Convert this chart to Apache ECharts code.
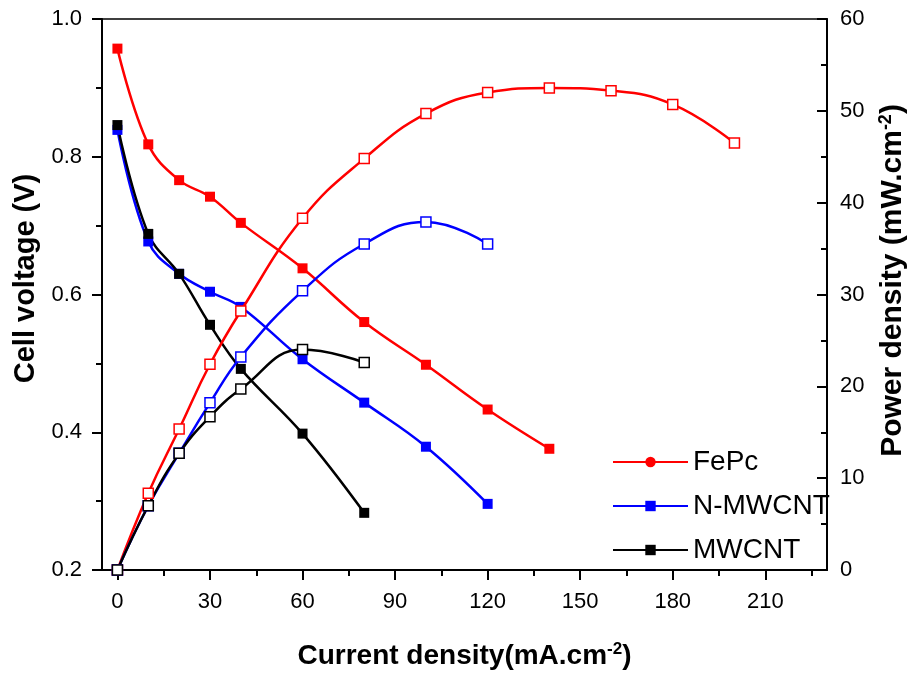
<!DOCTYPE html>
<html>
<head>
<meta charset="utf-8">
<script src="https://cdn.jsdelivr.net/npm/echarts@6/dist/echarts.min.js"></script>
<style>html,body{margin:0;padding:0;background:#fff}#c{width:916px;height:676px}</style>
</head>
<body>
<div id="c"></div>
<script>
// Current density (mA/cm2)
const currentFePc = [0, 10, 20, 30, 40, 60, 80, 100, 120, 140];
const currentFePcPower = [0, 10, 20, 30, 40, 60, 80, 100, 120, 140, 160, 180, 200];
const currentNMW = [0, 10, 20, 30, 40, 60, 80, 100, 120];
const currentMW = [0, 10, 20, 30, 40, 60, 80];

// Cell voltage (V)
const voltageFePc = [0.957, 0.818, 0.766, 0.742, 0.704, 0.638, 0.560, 0.498, 0.433, 0.376];
const voltageNMW = [0.839, 0.677, 0.630, 0.604, 0.582, 0.506, 0.443, 0.379, 0.296];
const voltageMW = [0.846, 0.688, 0.630, 0.556, 0.492, 0.398, 0.283];

// Power density (mW/cm2)
const powerFePc = [0, 8.35, 15.35, 22.4, 28.2, 38.3, 44.8, 49.7, 52.0, 52.5, 52.2, 50.7, 46.5];
const powerNMW = [0, 7.0, 12.7, 18.2, 23.2, 30.4, 35.5, 37.9, 35.5];
const powerMW = [0, 7.0, 12.7, 16.7, 19.7, 24.0, 22.6];

// Tick values
const xLabelTicks = [0, 30, 60, 90, 120, 150, 180, 210];
const xMinorTicks = [15, 45, 75, 105, 135, 165, 195, 225];
const legendNames = ['FePc', 'N-MWCNT', 'MWCNT'];

const pairs = (xs, ys) => xs.map((x, i) => [x, ys[i]]);
const FONT = '"Liberation Sans", Arial, sans-serif';
const RED = '#ff0000', BLUE = '#0000ff', BLACK = '#000000';

function vSeries(name, xs, ys, color) {
  return {
    name: name, type: 'line', xAxisIndex: 0, yAxisIndex: 0,
    data: pairs(xs, ys), smooth: 0.4,
    symbol: 'rect', symbolSize: 10,
    lineStyle: { color: color, width: 2.5 },
    itemStyle: { color: color },
    z: 3
  };
}
function pSeries(name, xs, ys, color) {
  return {
    name: name, type: 'line', xAxisIndex: 0, yAxisIndex: 1,
    data: pairs(xs, ys), smooth: 0.45,
    symbol: 'rect', symbolSize: 10,
    lineStyle: { color: color, width: 2.5 },
    itemStyle: { color: '#ffffff', borderColor: color, borderWidth: 1.5 },
    z: 4
  };
}
function dummy(name, color, symbol) {
  return {
    name: name, type: 'line', data: [], xAxisIndex: 0, yAxisIndex: 0,
    symbol: symbol, symbolSize: 10,
    lineStyle: { color: color, width: 2.5 },
    itemStyle: { color: color }
  };
}

const chart = echarts.init(document.getElementById('c'), null, { renderer: 'canvas' });
chart.setOption({
  animation: false,
  backgroundColor: '#ffffff',
  grid: { left: 102, right: 77, top: 19, bottom: 106, show: true, borderColor: '#000', borderWidth: 1.5, backgroundColor: 'transparent' },
  legend: {
    data: legendNames,
    orient: 'vertical',
    left: 612, top: 446, padding: 0,
    itemWidth: 75, itemHeight: 13, itemGap: 12,
    textStyle: { fontFamily: FONT, fontSize: 28, color: '#000', lineHeight: 32 },
    selectedMode: false
  },
  xAxis: [{
    type: 'value', min: -5, max: 230, position: 'bottom',
    name: 'Current density(mA.cm{sup|-2})',
    nameLocation: 'middle', nameGap: 71,
    nameTextStyle: {
      fontFamily: FONT, fontSize: 28, fontWeight: 'bold', color: '#000',
      rich: { sup: { fontFamily: FONT, fontSize: 17, fontWeight: 'bold', color: '#000', verticalAlign: 'top', padding: [0, 0, 14, 0] } }
    },
    axisLine: { show: true, onZero: false, lineStyle: { color: '#000', width: 2 } },
    axisTick: { show: true, inside: false, length: 10, customValues: xLabelTicks, lineStyle: { color: '#000', width: 2 } },
    axisLabel: { show: true, customValues: xLabelTicks, margin: 21, fontFamily: FONT, fontSize: 22, color: '#000' },
    splitLine: { show: false }
  }, {
    type: 'value', min: -5, max: 230, position: 'bottom',
    axisLine: { show: false },
    axisTick: { show: true, inside: false, length: 6, customValues: xMinorTicks, lineStyle: { color: '#000', width: 2 } },
    axisLabel: { show: false },
    splitLine: { show: false }
  }],
  yAxis: [{
    type: 'value', min: 0.2, max: 1.0, interval: 0.2, position: 'left',
    name: 'Cell voltage (V)', nameLocation: 'middle', nameGap: 60, nameRotate: 90,
    nameTextStyle: { fontFamily: FONT, fontSize: 29, fontWeight: 'bold', color: '#000', padding: [0, 0, 0, 32] },
    axisLine: { show: true, onZero: false, lineStyle: { color: '#000', width: 2 } },
    axisTick: { show: true, inside: false, length: 10, lineStyle: { color: '#000', width: 2 } },
    minorTick: { show: true, splitNumber: 2, length: 6, lineStyle: { color: '#000', width: 2 } },
    axisLabel: { margin: 20, fontFamily: FONT, fontSize: 22, color: '#000', formatter: v => v.toFixed(1) },
    splitLine: { show: false }, minorSplitLine: { show: false }
  }, {
    type: 'value', min: 0, max: 60, interval: 10, position: 'right',
    name: 'Power density (mW.cm{sup|-2})', nameLocation: 'middle', nameGap: 50, nameRotate: 90,
    nameTextStyle: {
      fontFamily: FONT, fontSize: 30, fontWeight: 'bold', color: '#000', padding: [0, 0, 0, 28],
      rich: { sup: { fontFamily: FONT, fontSize: 18, fontWeight: 'bold', color: '#000', verticalAlign: 'top', padding: [0, 0, 14, 0] } }
    },
    axisLine: { show: true, onZero: false, lineStyle: { color: '#000', width: 2 } },
    axisTick: { show: true, inside: true, length: 10, lineStyle: { color: '#000', width: 2 } },
    minorTick: { show: true, splitNumber: 2, length: 6, lineStyle: { color: '#000', width: 2 } },
    axisLabel: { margin: 13, fontFamily: FONT, fontSize: 22, color: '#000' },
    splitLine: { show: false }, minorSplitLine: { show: false }
  }],
  series: [
    vSeries('FePc V', currentFePc, voltageFePc, RED),
    vSeries('N-MWCNT V', currentNMW, voltageNMW, BLUE),
    vSeries('MWCNT V', currentMW, voltageMW, BLACK),
    pSeries('FePc P', currentFePcPower, powerFePc, RED),
    pSeries('N-MWCNT P', currentNMW, powerNMW, BLUE),
    pSeries('MWCNT P', currentMW, powerMW, BLACK),
    dummy('FePc', RED, 'circle'),
    dummy('N-MWCNT', BLUE, 'rect'),
    dummy('MWCNT', BLACK, 'rect')
  ]
});
</script>
</body>
</html>
